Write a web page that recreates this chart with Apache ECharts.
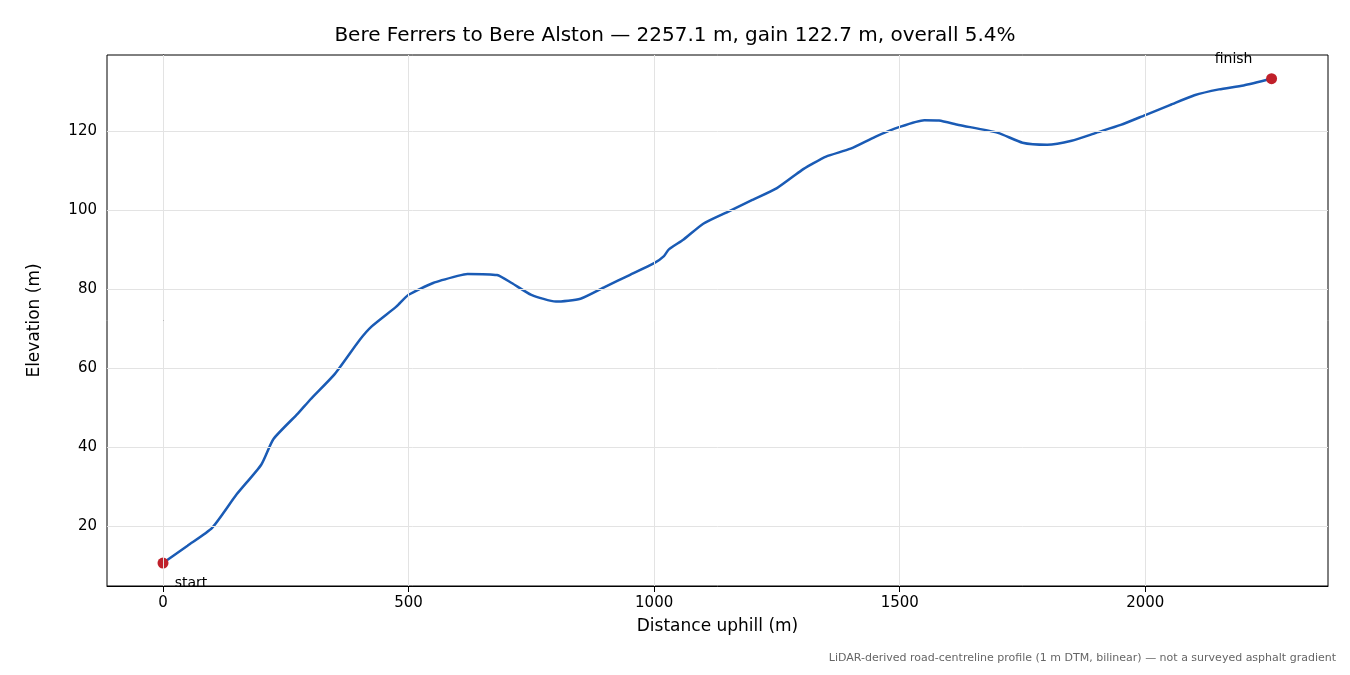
<!DOCTYPE html>
<html><head><meta charset="utf-8">
<script src="https://cdn.jsdelivr.net/npm/echarts@6/dist/echarts.min.js"></script>
<style>html,body{margin:0;padding:0;background:#fff}#c{width:1350px;height:675px}</style>
</head><body><div id="c"></div>
<script>
const distance = [0,50,100,150,200,225,275,300,350,400,425,475,500,550,600,620,680,710,750,800,850,900,950,1000,1020,1030,1060,1100,1150,1200,1250,1300,1320,1350,1400,1450,1500,1550,1580,1620,1700,1750,1800,1850,1900,1950,2000,2050,2100,2150,2200,2257.1];
const elevation = [10.6,15,19.5,28,35.5,42,48.5,52,58.5,67,70.5,75.5,78.5,81.5,83.3,83.8,83.5,81.5,78.5,76.8,77.5,80.5,83.5,86.5,88.3,90,92.5,96.5,99.5,102.5,105.5,110,111.5,113.5,115.5,118.5,121,122.7,122.6,121.5,119.5,117,116.5,117.5,119.5,121.5,124,126.5,129,130.5,131.5,133.2];
const xTicks = [0,500,1000,1500,2000];
const yTicks = [20,40,60,80,100,120];
const endpoints = [{name:'start', value:[0,10.6]}, {name:'finish', value:[2257.1,133.2]}];

const f = 'DejaVu Sans';
const chart = echarts.init(document.getElementById('c'));
const grid = {lineStyle:{color:'#e3e3e3', width:1, type:'solid'}, label:{show:false}, symbol:'none', silent:true, animation:false};
chart.setOption({
  animation:false,
  title:{text:'Bere Ferrers to Bere Alston — 2257.1 m, gain 122.7 m, overall 5.4%', left:'center', top:21, textStyle:{fontFamily:f, fontSize:20, fontWeight:'normal', color:'#000'}},
  graphic:[{type:'text', right:14, top:653, style:{text:'LiDAR-derived road-centreline profile (1 m DTM, bilinear) — not a surveyed asphalt gradient', fontFamily:f, fontSize:11, fill:'#666'}}],
  grid:{left:107, right:22, top:55, bottom:89, show:true, borderColor:'#000', borderWidth:1, backgroundColor:'transparent'},
  xAxis:{type:'value', min:-114, max:2372, name:'Distance uphill (m)', nameLocation:'middle', nameGap:32, nameTextStyle:{fontFamily:f, fontSize:17, color:'#000'},
    axisLine:{show:true, lineStyle:{color:'#000'}}, splitLine:{show:false},
    axisTick:{show:true, customValues:xTicks, length:6, lineStyle:{color:'#000'}},
    axisLabel:{customValues:xTicks, formatter:v=>String(v), fontFamily:f, fontSize:15, color:'#000', margin:10}},
  yAxis:{type:'value', min:4.8, max:139.2, name:'Elevation (m)', nameLocation:'middle', nameGap:64, nameTextStyle:{fontFamily:f, fontSize:17, color:'#000'},
    axisLine:{show:true, lineStyle:{color:'#000'}}, splitLine:{show:false},
    axisTick:{show:true, customValues:yTicks, length:6, lineStyle:{color:'#000'}},
    axisLabel:{customValues:yTicks, formatter:v=>String(v), fontFamily:f, fontSize:15, color:'#000', margin:10}},
  series:[
    {type:'line', data:distance.map((d,i)=>[d,elevation[i]]), smooth:0.2, showSymbol:false, lineStyle:{color:'#1a5bb5', width:2.5}, z:3,
     markLine:Object.assign({data:xTicks.map(v=>({xAxis:v})).concat(yTicks.map(v=>({yAxis:v})))}, grid)},
    {type:'scatter', data:endpoints, symbolSize:11, itemStyle:{color:'#c0202a', opacity:1}, z:4,
     label:{show:true, formatter:p=>p.name, fontFamily:f, fontSize:14, color:'#000'},
     labelLayout:p=>p.dataIndex===0?{dx:28,dy:20}:{dx:-38,dy:-19}}
  ]
});
</script></body></html>
